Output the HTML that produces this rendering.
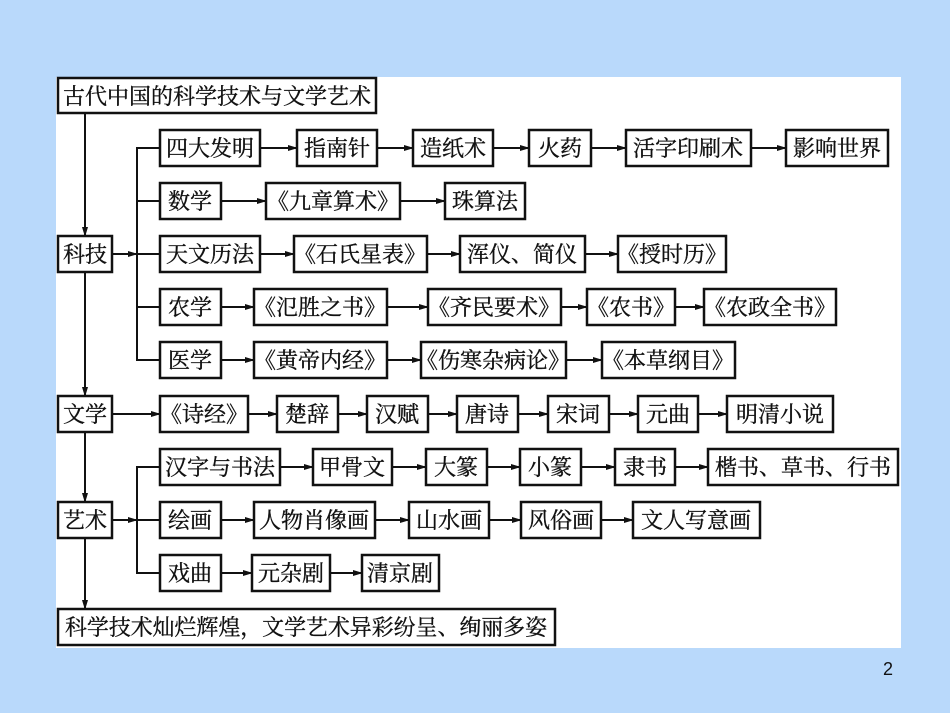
<!DOCTYPE html>
<html><head><meta charset="utf-8"><style>
html,body{margin:0;padding:0;}
body{width:950px;height:713px;background:#b9d9fb;overflow:hidden;position:relative;}
svg{position:absolute;left:0;top:0;}
text{font-family:"Noto Serif CJK SC","Liberation Serif","Noto Sans CJK SC",serif;font-size:22px;fill:#111;stroke:#111;stroke-width:0.35;text-anchor:middle;}
</style></head><body>
<svg width="950" height="713" viewBox="0 0 950 713">
<defs><marker id="a" markerWidth="10" markerHeight="8" refX="9" refY="4" orient="auto" markerUnits="userSpaceOnUse"><path d="M0,1 L10,4 L0,7 Z" fill="#111"/></marker></defs>
<rect x="56" y="77" width="845" height="571" fill="#fff"/>
<g fill="none" stroke="#111" stroke-width="2">
<line x1="85" y1="113" x2="85" y2="236" marker-end="url(#a)"/>
<line x1="85" y1="272" x2="85" y2="396" marker-end="url(#a)"/>
<line x1="85" y1="432" x2="85" y2="502" marker-end="url(#a)"/>
<line x1="85" y1="538" x2="85" y2="609" marker-end="url(#a)"/>
<line x1="112" y1="254" x2="137" y2="254" marker-end="url(#a)"/>
<polyline points="160,148 137,148 137,360 160,360"/>
<line x1="137" y1="201" x2="160" y2="201"/><line x1="137" y1="254" x2="160" y2="254"/><line x1="137" y1="307" x2="160" y2="307"/>
<line x1="112" y1="414" x2="160" y2="414" marker-end="url(#a)"/>
<line x1="112" y1="520" x2="137" y2="520" marker-end="url(#a)"/>
<polyline points="160,467 137,467 137,573 160,573"/>
<line x1="137" y1="520" x2="160" y2="520"/>
<g marker-end="url(#a)">
<line x1="260" y1="148" x2="297" y2="148"/><line x1="377" y1="148" x2="413" y2="148"/><line x1="493" y1="148" x2="529" y2="148"/><line x1="591" y1="148" x2="626" y2="148"/><line x1="751" y1="148" x2="786" y2="148"/>
<line x1="221" y1="201" x2="266" y2="201"/><line x1="400" y1="201" x2="445" y2="201"/>
<line x1="260" y1="254" x2="294" y2="254"/><line x1="427" y1="254" x2="460" y2="254"/><line x1="585" y1="254" x2="618" y2="254"/>
<line x1="221" y1="307" x2="254" y2="307"/><line x1="387" y1="307" x2="428" y2="307"/><line x1="561" y1="307" x2="587" y2="307"/><line x1="675" y1="307" x2="704" y2="307"/>
<line x1="221" y1="360" x2="254" y2="360"/><line x1="387" y1="360" x2="421" y2="360"/><line x1="566" y1="360" x2="602" y2="360"/>
<line x1="248" y1="414" x2="277" y2="414"/><line x1="338" y1="414" x2="367" y2="414"/><line x1="428" y1="414" x2="457" y2="414"/><line x1="518" y1="414" x2="548" y2="414"/><line x1="609" y1="414" x2="638" y2="414"/><line x1="698" y1="414" x2="727" y2="414"/>
<line x1="280" y1="467" x2="313" y2="467"/><line x1="392" y1="467" x2="426" y2="467"/><line x1="487" y1="467" x2="520" y2="467"/><line x1="581" y1="467" x2="615" y2="467"/><line x1="675" y1="467" x2="708" y2="467"/>
<line x1="221" y1="520" x2="254" y2="520"/><line x1="375" y1="520" x2="409" y2="520"/><line x1="489" y1="520" x2="521" y2="520"/><line x1="601" y1="520" x2="633" y2="520"/>
<line x1="221" y1="573" x2="252" y2="573"/><line x1="330" y1="573" x2="362" y2="573"/>
</g>
</g>
<g fill="none" stroke="#111" stroke-width="2.5">
<rect x="58" y="78" width="318" height="35"/>
<rect x="58" y="236" width="54" height="36"/><rect x="58" y="396" width="54" height="36"/><rect x="58" y="502" width="54" height="36"/>
<rect x="58" y="609" width="497" height="36"/>
<rect x="160" y="130" width="100" height="36"/><rect x="297" y="130" width="80" height="36"/><rect x="413" y="130" width="80" height="36"/><rect x="529" y="130" width="62" height="36"/><rect x="626" y="130" width="125" height="36"/><rect x="786" y="130" width="102" height="36"/>
<rect x="160" y="183" width="61" height="36"/><rect x="266" y="183" width="134" height="36"/><rect x="445" y="183" width="80" height="36"/>
<rect x="160" y="236" width="100" height="36"/><rect x="294" y="236" width="133" height="36"/><rect x="460" y="236" width="125" height="36"/><rect x="618" y="236" width="108" height="36"/>
<rect x="160" y="289" width="61" height="36"/><rect x="254" y="289" width="133" height="36"/><rect x="428" y="289" width="133" height="36"/><rect x="587" y="289" width="88" height="36"/><rect x="704" y="289" width="132" height="36"/>
<rect x="160" y="342" width="61" height="36"/><rect x="254" y="342" width="133" height="36"/><rect x="421" y="342" width="145" height="36"/><rect x="602" y="342" width="133" height="36"/>
<rect x="160" y="396" width="88" height="36"/><rect x="277" y="396" width="61" height="36"/><rect x="367" y="396" width="61" height="36"/><rect x="457" y="396" width="61" height="36"/><rect x="548" y="396" width="61" height="36"/><rect x="638" y="396" width="60" height="36"/><rect x="727" y="396" width="106" height="36"/>
<rect x="160" y="449" width="120" height="36"/><rect x="313" y="449" width="79" height="36"/><rect x="426" y="449" width="61" height="36"/><rect x="520" y="449" width="61" height="36"/><rect x="615" y="449" width="60" height="36"/><rect x="708" y="449" width="190" height="36"/>
<rect x="160" y="502" width="61" height="36"/><rect x="254" y="502" width="121" height="36"/><rect x="409" y="502" width="80" height="36"/><rect x="521" y="502" width="80" height="36"/><rect x="633" y="502" width="127" height="36"/>
<rect x="160" y="555" width="61" height="36"/><rect x="252" y="555" width="78" height="36"/><rect x="362" y="555" width="77" height="36"/>
</g>
<g>
<text x="217" y="104">古代中国的科学技术与文学艺术</text>
<text x="85" y="262">科技</text><text x="85" y="422">文学</text><text x="85" y="528">艺术</text>
<text x="306" y="635" textLength="482" lengthAdjust="spacingAndGlyphs">科学技术灿烂辉煌，文学艺术异彩纷呈、绚丽多姿</text>
<text x="210" y="156">四大发明</text><text x="337" y="156">指南针</text><text x="453" y="156">造纸术</text><text x="560" y="156">火药</text><text x="688" y="156">活字印刷术</text><text x="837" y="156">影响世界</text>
<text x="190" y="209">数学</text><text x="333" y="209">《九章算术》</text><text x="485" y="209">珠算法</text>
<text x="210" y="262">天文历法</text><text x="360" y="262">《石氏星表》</text><text x="522" y="262">浑仪、简仪</text><text x="672" y="262">《授时历》</text>
<text x="190" y="315">农学</text><text x="320" y="315">《氾胜之书》</text><text x="494" y="315">《齐民要术》</text><text x="631" y="315">《农书》</text><text x="770" y="315">《农政全书》</text>
<text x="190" y="368">医学</text><text x="320" y="368">《黄帝内经》</text><text x="493" y="368">《伤寒杂病论》</text><text x="668" y="368">《本草纲目》</text>
<text x="204" y="422">《诗经》</text><text x="307" y="422">楚辞</text><text x="397" y="422">汉赋</text><text x="487" y="422">唐诗</text><text x="578" y="422">宋词</text><text x="668" y="422">元曲</text><text x="780" y="422">明清小说</text>
<text x="220" y="475">汉字与书法</text><text x="352" y="475">甲骨文</text><text x="456" y="475">大篆</text><text x="550" y="475">小篆</text><text x="645" y="475">隶书</text><text x="803" y="475">楷书、草书、行书</text>
<text x="190" y="528">绘画</text><text x="314" y="528">人物肖像画</text><text x="449" y="528">山水画</text><text x="561" y="528">风俗画</text><text x="696" y="528">文人写意画</text>
<text x="190" y="581">戏曲</text><text x="291" y="581">元杂剧</text><text x="400" y="581">清京剧</text>
<text x="888" y="675" style="font-family:'Liberation Sans',sans-serif;font-size:18px;stroke:none">2</text>
</g>
</svg>
</body></html>
